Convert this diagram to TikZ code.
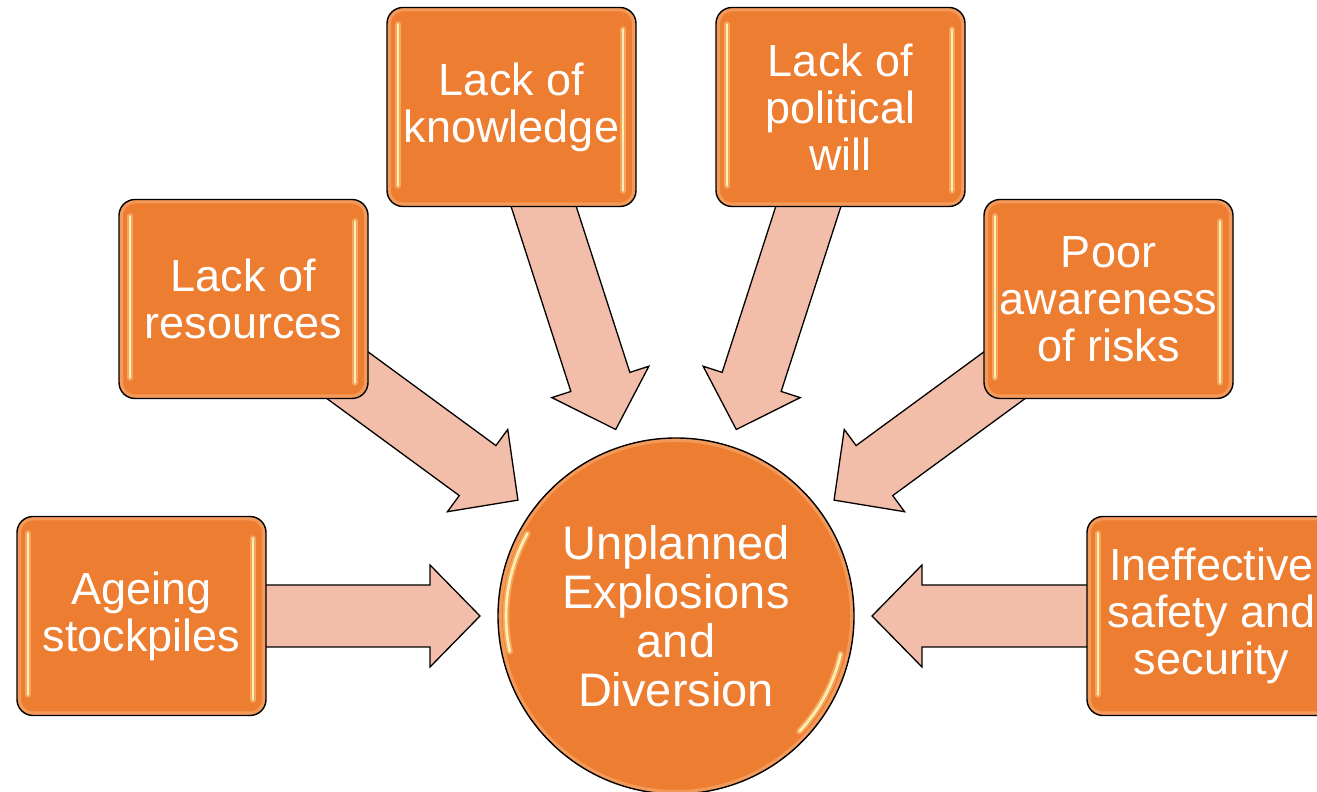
\documentclass[tikz,border=0pt]{standalone}
\usepackage{fontspec}
\setmainfont{Liberation Sans}
\usetikzlibrary{calc}
\pgfdeclarelayer{bg}
\pgfsetlayers{bg,main}
\definecolor{boxorange}{HTML}{ED7D31}
\definecolor{arrowfill}{HTML}{F2BEA9}
\definecolor{glowc}{HTML}{F6A56A}
\definecolor{shinec}{HTML}{FFF0B0}
\definecolor{halo}{HTML}{FBC98A}
\tikzset{
  shineline/.style={draw=shinec, line width=2.6pt, line cap=round,
    preaction={draw=halo, line width=6.5pt, opacity=.55, line cap=round}},
  causebox/.style={draw=black, line width=1.4pt, fill=boxorange, rounded corners=16pt,
    minimum width=249pt, minimum height=199pt, inner sep=0pt, text=white, align=center,
    font=\fontsize{45pt}{47pt}\selectfont,
    path picture={
      \draw[glowc, line width=8pt, opacity=.7, rounded corners=16pt]
        (path picture bounding box.south west) rectangle (path picture bounding box.north east);
      \draw[shineline] ([xshift=11pt,yshift=-17pt]path picture bounding box.north west)
        -- ([xshift=11pt,yshift=21pt]path picture bounding box.south west);
      \draw[shineline] ([xshift=-13pt,yshift=-22pt]path picture bounding box.north east)
        -- ([xshift=-13pt,yshift=16pt]path picture bounding box.south east);
    }},
  effectcircle/.style={circle, draw=black, line width=1.4pt, fill=boxorange,
    minimum size=356pt, inner sep=0pt, text=white, align=center,
    font=\fontsize{47pt}{49pt}\selectfont,
    path picture={
      \draw[glowc, line width=8pt, opacity=.7]
        (path picture bounding box.center) circle[radius=178pt];
      \draw[shineline] ([shift={(151:170pt)}]path picture bounding box.center)
        arc[start angle=151, end angle=192, radius=170pt];
      \draw[shineline] ([shift={(-13:169pt)}]path picture bounding box.center)
        arc[start angle=-13, end angle=-43, radius=169pt];
    }},
  blockarrow/.style={draw=black, line width=1.3pt, fill=arrowfill, line join=miter}
}
\newcommand{\causearrow}[1]{%
  \coordinate (T) at ($(ctr.center)!196pt!(#1.center)$);
  \coordinate (H) at ($(T)!50pt!(#1.center)$);
  \draw[blockarrow] ($(#1.center)!31pt!90:(T)$) -- ($(H)!31pt!90:(T)$)
    -- ($(H)!51pt!90:(T)$) -- (T) -- ($(H)!51pt!-90:(T)$)
    -- ($(H)!31pt!-90:(T)$) -- ($(#1.center)!31pt!-90:(T)$) -- cycle;
}
\begin{document}
\begin{tikzpicture}[x=1pt,y=1pt]
\useasboundingbox (0,0) rectangle (1317,792);
\node[effectcircle] (ctr) at (676,176) {Unplanned\\Explosions\\and\\Diversion};
\node[causebox] (age) at (141.5,176) {Ageing\\stockpiles};
\node[causebox] (ineff) at (1211.5,176) {Ineffective\\safety and\\security};
\node[causebox] (res) at (243.5,493) {Lack of\\resources};
\node[causebox] (poor) at (1108.5,493) {Poor\\awareness\\of risks};
\node[causebox] (know) at (511.5,685) {Lack of\\knowledge};
\node[causebox] (pol) at (840.5,685) {Lack of\\political\\will};
\begin{pgfonlayer}{bg}
  \causearrow{age}
  \causearrow{ineff}
  \causearrow{res}
  \causearrow{poor}
  \causearrow{know}
  \causearrow{pol}
\end{pgfonlayer}
\end{tikzpicture}
\end{document}
